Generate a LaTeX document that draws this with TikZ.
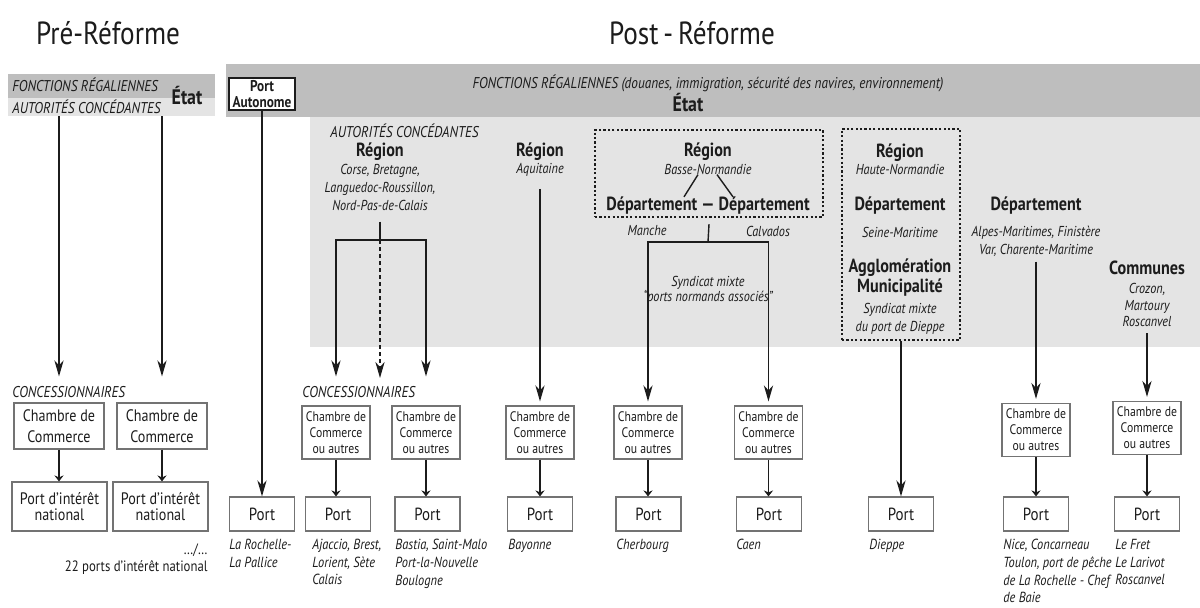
\documentclass[tikz,border=0pt]{standalone}
\usepackage{fontspec}
\setmainfont{PT Sans}[FakeStretch=0.85]
\usetikzlibrary{arrows.meta}
\definecolor{darkband}{RGB}{190,190,190}
\definecolor{lightband}{RGB}{228,228,228}
\definecolor{boxline}{RGB}{115,115,115}
\definecolor{inkcol}{RGB}{28,28,28}

\begin{document}
\begin{tikzpicture}[x=0.5pt, y=-0.5pt, inner sep=0pt, text=inkcol,
  title/.style={font=\fontsize{16}{18}\selectfont},
  caps/.style={font=\itshape\fontsize{7.8}{9}\selectfont},
  head/.style={font=\bfseries\fontsize{9.5}{9.8}\selectfont, align=center},
  sub/.style={font=\itshape\fontsize{7.2}{9}\selectfont, align=center},
  place/.style={font=\itshape\fontsize{7.3}{8.8}\selectfont, align=left, anchor=north west},
  ccbox/.style={draw=boxline, line width=0.6pt, align=center, minimum width=34pt, minimum height=26.5pt, font=\fontsize{6.9}{8}\selectfont},
  prebox/.style={draw=boxline, line width=0.6pt, align=center, minimum width=45pt, minimum height=23pt, font=\fontsize{8.3}{10.5}\selectfont},
  natbox/.style={draw=boxline, line width=0.6pt, align=center, minimum width=47.5pt, minimum height=24.5pt, font=\fontsize{8.3}{8.2}\selectfont},
  portbox/.style={draw=boxline, line width=0.6pt, minimum width=32.5pt, minimum height=17pt, font=\fontsize{8.8}{10}\selectfont},
  dotbox/.style={draw=inkcol, line width=1.1pt, dash pattern=on 1.1pt off 1.1pt},
  link/.style={draw=inkcol, line width=0.7pt},
  bigarrow/.style={link, -{Stealth[length=8pt,width=4.6pt,inset=2.5pt]}},
  smallarrow/.style={draw=inkcol, line width=0.6pt, -{Stealth[length=3pt,width=4.6pt,inset=1pt]}}]

\useasboundingbox (0,0) rectangle (1200,607);

% ---- Titles ----
\node[title] (pretitle) at (108,33) {Pré-Réforme};
\node[title] (posttitle) at (692,33) {Post\hspace{0.15em}-\hspace{0.15em}Réforme};

% ---- Pre-reform: state band ----
\fill[darkband] (8,74) rectangle (215,98);
\fill[lightband] (8,98) rectangle (215,116);
\node[caps, anchor=west] (prefr) at (12,85) {FONCTIONS RÉGALIENNES};
\node[caps, anchor=west] (preac) at (12,107) {AUTORITÉS CONCÉDANTES};
\node[font=\bfseries\fontsize{10.5}{12}\selectfont] (preetat) at (187,96) {État};
\coordinate (pre1) at (59,116);
\coordinate (pre2) at (162,116);

% ---- Pre-reform: concessions ----
\node[caps, anchor=west] (preconc) at (12,392) {CONCESSIONNAIRES};
\node[prebox] (cc1) at (59,426) {Chambre de\\Commerce};
\node[prebox] (cc2) at (162,426) {Chambre de\\Commerce};
\node[natbox] (pn1) at (59.5,506.5) {Port d'intérêt\\national};
\node[natbox] (pn2) at (160.5,506.5) {Port d'intérêt\\national};
\draw[bigarrow, shorten >=13pt] (pre1) -- (cc1.north);
\draw[bigarrow, shorten >=13pt] (pre2) -- (cc2.north);
\node[anchor=east, font=\fontsize{7.5}{9}\selectfont] (etc) at (208,550) {\ldots/\ldots};
\node[anchor=east, font=\fontsize{7.5}{9}\selectfont] (natcount) at (208,567) {22 ports d'intérêt national};

% ---- Post-reform: bands ----
\fill[darkband] (226,64) rectangle (1200,117);
\fill[lightband] (310,117) rectangle (1200,347);
\node[caps, font=\itshape\fontsize{7.8}{9}\selectfont] (postfr) at (708,83)
  {FONCTIONS RÉGALIENNES (douanes, immigration, sécurité des navires, environnement)};
\node[font=\bfseries\fontsize{10.5}{12}\selectfont] (postetat) at (688,103) {État};

% Port autonome
\node[draw=inkcol, fill=white, line width=0.7pt, minimum width=33pt, minimum height=16pt,
      align=center, font=\bfseries\fontsize{7.8}{8.3}\selectfont] (pa) at (262,94) {Port\\Autonome};
\node[portbox] (pAut) at (262,514) {Port};
\draw[bigarrow] (pa.south) -- (pAut.north);
\node[place] (lrp) at (229,539) {La Rochelle-\\La Pallice};

% Regions with several concessionaires
\node[caps, anchor=west] (postac) at (330,131) {AUTORITÉS CONCÉDANTES};
\node[head] (rg1) at (380,152) {Région};
\node[sub, font=\itshape\fontsize{7.2}{9.2}\selectfont] (rg1sub) at (380,187.5) {Corse, Bretagne,\\Languedoc-Roussillon,\\Nord-Pas-de-Calais};
\coordinate (rg1j) at (380,240);
\coordinate (rg1end) at (380,378);
\draw[link] ([yshift=-5pt]rg1sub.south) -- (rg1j);
\node[caps, anchor=west] (postconc) at (302,392) {CONCESSIONNAIRES};
\node[ccbox] (ccA) at (336,432.5) {Chambre de\\Commerce\\ou autres};
\node[ccbox] (ccB) at (426,432.5) {Chambre de\\Commerce\\ou autres};
\draw[bigarrow, shorten >=14.5pt] (rg1j) -| (ccA.north);
\draw[bigarrow, shorten >=14.5pt] (rg1j) -| (ccB.north);
\draw[bigarrow, dash pattern=on 2pt off 1.5pt] (rg1j) -- (rg1end);
\node[portbox] (pA) at (338,514) {Port};
\node[portbox] (pB) at (427.5,514) {Port};
\node[place] (ajac) at (312,539) {Ajaccio, Brest,\\Lorient, Sète\\Calais};
\node[place] (bast) at (395,539) {Bastia, Saint-Malo\\Port-la-Nouvelle\\Boulogne};

% Aquitaine
\node[head] (rg2) at (540,152) {Région};
\node[sub] (rg2sub) at (540,170) {Aquitaine};
\node[ccbox] (ccAq) at (540,432.5) {Chambre de\\Commerce\\ou autres};
\draw[bigarrow, shorten >=2pt] ([yshift=-6pt]rg2sub.south) -- (ccAq.north);
\node[portbox] (pAq) at (540,514) {Port};
\node[place] (bay) at (508,539) {Bayonne};

% Basse-Normandie
\node[dotbox, minimum width=114pt, minimum height=43.5pt] (bnbox) at (709,173.5) {};
\node[head] (rg3) at (708,152) {Région};
\node[sub] (rg3sub) at (708,169) {Basse-Normandie};
\node[head] (deps) at (708,206) {Département — Département};
\draw[link] ([xshift=-5pt]rg3sub.south) -- ([xshift=-12pt]deps.north);
\draw[link] ([xshift=4.5pt]rg3sub.south) -- ([xshift=12.5pt]deps.north);
\node[sub] (manche) at (647,231) {Manche};
\node[sub] (calva) at (768,231) {Calvados};
\coordinate (bnj) at (708,242);
\draw[link] ([yshift=-3pt]bnbox.south) -- (bnj);
\node[sub, font=\itshape\fontsize{7.2}{7.6}\selectfont] (synd) at (708,290.5) {Syndicat mixte\\“ports normands associés”};
\node[ccbox] (ccCh) at (648,432.5) {Chambre de\\Commerce\\ou autres};
\node[ccbox] (ccCa) at (768.5,432.5) {Chambre de\\Commerce\\ou autres};
\draw[bigarrow, shorten >=2pt] (bnj) -| (ccCh.north);
\draw[bigarrow, shorten >=2pt] (bnj) -| (ccCa.north);
\node[portbox] (pCh) at (648.5,514) {Port};
\node[portbox] (pCa) at (769,514) {Port};
\node[place] (cherb) at (616,539) {Cherbourg};
\node[place] (caen) at (736,539) {Caen};

% Haute-Normandie
\node[dotbox, minimum width=59pt, minimum height=105.5pt] (hnbox) at (901,234.5) {};
\node[head] (rg4) at (900,153) {Région};
\node[sub] (rg4sub) at (900,169) {Haute-Normandie};
\node[head] (dep3) at (900,206) {Département};
\node[sub] (dep3sub) at (900,232) {Seine-Maritime};
\node[head] (agglo) at (900,277.5) {Agglomération\\Municipalité};
\node[sub] (dsynd) at (900,319) {Syndicat mixte\\du port de Dieppe};
\node[portbox] (pDi) at (901,514) {Port};
\draw[bigarrow] (hnbox.south) -- (pDi.north);
\node[place] (diep) at (869,539) {Dieppe};

% Departement
\node[head] (dep4) at (1036,206) {Département};
\node[sub] (dep4sub) at (1036,241) {Alpes-Maritimes, Finistère\\Var, Charente-Maritime};
\node[ccbox] (ccDe) at (1036,430) {Chambre de\\Commerce\\ou autres};
\draw[bigarrow, shorten >=2pt] ([yshift=-2.5pt]dep4sub.south) -- (ccDe.north);
\node[portbox] (pDe) at (1036,514) {Port};
\node[place] (nice) at (1003,539) {Nice, Concarneau\\Toulon, port de pêche\\de La Rochelle - Chef\\de Baie};

% Communes
\node[head] (com) at (1147,268) {Communes};
\node[sub, font=\itshape\fontsize{7.2}{8.3}\selectfont] (comsub) at (1147,305) {Crozon,\\Martoury\\Roscanvel};
\node[ccbox] (ccCo) at (1147,428) {Chambre de\\Commerce\\ou autres};
\draw[bigarrow, shorten >=2pt] ([yshift=-3pt]comsub.south) -- (ccCo.north);
\node[portbox] (pCo) at (1147,514) {Port};
\node[place] (fret) at (1115,539) {Le Fret\\Le Larivot\\Roscanvel};

% ---- Concessionaire -> port ----
\foreach \a/\b in {cc1/pn1, cc2/pn2, ccA/pA, ccB/pB, ccAq/pAq, ccCh/pCh, ccCa/pCa, ccDe/pDe, ccCo/pCo} {
  \draw[smallarrow] (\a.south) -- (\a.south |- \b.north);
}

\end{tikzpicture}
\end{document}
